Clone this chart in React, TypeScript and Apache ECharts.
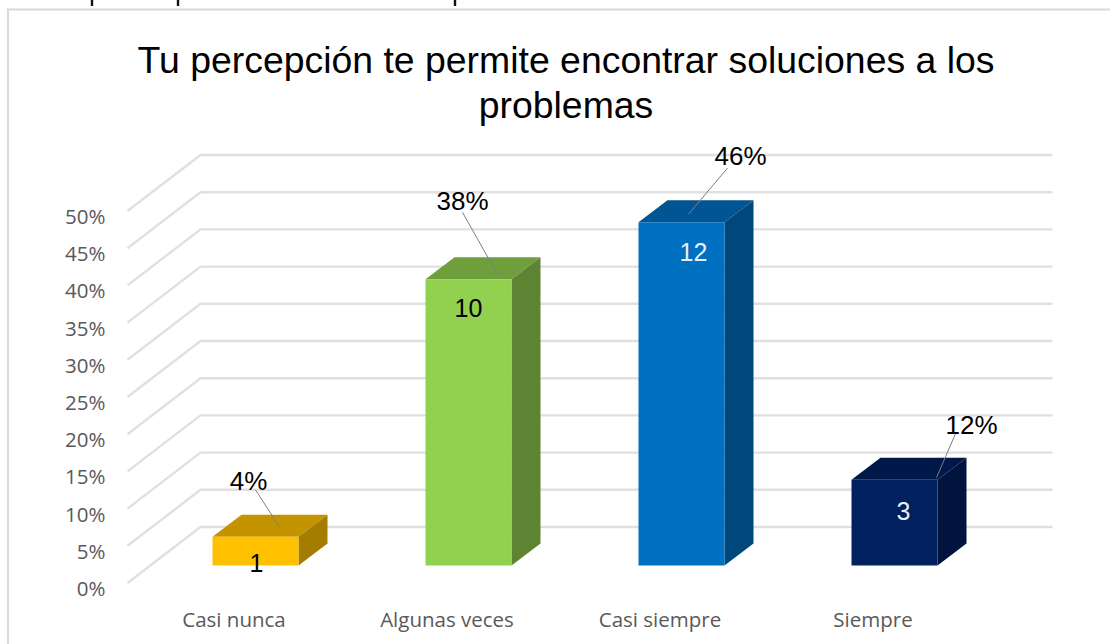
import React, { useEffect, useRef } from "react";
import * as echarts from "echarts";

const categories = ["Casi nunca", "Algunas veces", "Casi siempre", "Siempre"];
const counts = [1, 10, 12, 3];
const percents = [3.85, 38.46, 46.15, 11.54];
const percentLabels = ["4%", "38%", "46%", "12%"];
const gridTicks = [0, 5, 10, 15, 20, 25, 30, 35, 40, 45, 50];

const frontColors = ["#FFC000", "#92D050", "#0070C0", "#002060"];
const topColors = ["#C39300", "#6F9E3D", "#005592", "#00184A"];
const sideColors = ["#A37C00", "#5E8332", "#00487B", "#00143D"];
const countColors = ["#000000", "#000000", "#E8EEF4", "#E8EEF4"];

// label layout relative to the top-centre of each bar's front face: [labelDx, labelDy, lineX1, lineY1, lineX2, lineY2]
const leaderLayout = [
  [-7, -56, 0, -47, 24, -10],
  [-6, -78, -6, -67, 29, -5],
  [59, -66, 46, -54, 7, -8],
  [77, -55, 61, -46, 42, -2],
];
// count label offset relative to the same point: [dx, dy]
const countLayout = [
  [1, 26],
  [0, 29],
  [12, 30],
  [9, 31],
];
// clipped descenders of the line of text above the chart
const clippedStems = [92, 178, 455];

const BAR_W = 86;
const DEPTH_X = 29;
const DEPTH_Y = 22;
const BAR_SHIFT_X = 21.5;
const BAR_SHIFT_Y = -22.5;
const BACK_X = 73;
const BACK_Y = -61;
const FRONT_Y = -5;
const GRID_COLOR = "#E0E0E0";

export default function App() {
  const ref = useRef<HTMLDivElement>(null);
  useEffect(() => {
    if (!ref.current) return;
    const chart = echarts.init(ref.current, undefined, { renderer: "svg" });
    chart.setOption({
      animation: false,
      backgroundColor: "#ffffff",
      title: {
        text: "Tu percepción te permite encontrar soluciones a los\nproblemas",
        left: 561,
        top: 32,
        textAlign: "center",
        textStyle: {
          fontFamily: "Liberation Sans",
          fontSize: 37.4,
          fontWeight: "normal",
          color: "#000000",
          lineHeight: 45,
        },
      },
      graphic: [
        {
          type: "polyline",
          silent: true,
          shape: { points: [[8, 644], [8, 9.5], [1110, 9.5]] },
          style: { stroke: "#D9D9D9", lineWidth: 2, fill: "none" },
        },
        ...clippedStems.map((x) => ({
          type: "rect",
          silent: true,
          shape: { x: x - 1.2, y: 0, width: 2.4, height: 6 },
          style: { fill: "#111111" },
        })),
      ],
      grid: { left: 127.5, right: 130.5, top: 216, bottom: 56 },
      xAxis: {
        type: "category",
        data: categories,
        axisLine: { show: false },
        axisTick: { show: false },
        axisLabel: {
          margin: 20,
          fontFamily: "Open Sans",
          fontSize: 20.5,
          color: "#595959",
        },
      },
      yAxis: {
        type: "value",
        min: 0,
        max: 50,
        interval: 5,
        axisLine: { show: false },
        axisTick: { show: false },
        splitLine: { show: false },
        axisLabel: {
          margin: 22,
          fontFamily: "Open Sans",
          fontSize: 20.5,
          color: "#595959",
          formatter: "{value}%",
        },
      },
      series: [
        {
          type: "custom",
          silent: true,
          z: 1,
          clip: false,
          data: gridTicks.map((t) => [0, t]),
          renderItem: (params: any, api: any) => {
            const y = api.coord([0, api.value(1)])[1];
            const sys = params.coordSys;
            return {
              type: "polyline",
              shape: {
                points: [
                  [sys.x, y + FRONT_Y],
                  [sys.x + BACK_X, y + BACK_Y],
                  [sys.x + sys.width + BACK_X, y + BACK_Y],
                ],
              },
              style: { stroke: GRID_COLOR, lineWidth: 2.4, fill: "none" },
            };
          },
        },
        {
          type: "custom",
          silent: true,
          z: 2,
          clip: false,
          data: percents.map((p, i) => [i, p, counts[i]]),
          renderItem: (_params: any, api: any) => {
            const i = api.value(0);
            const [cx, yTop] = api.coord([i, api.value(1)]);
            const yBase = api.coord([i, 0])[1] + BAR_SHIFT_Y;
            const top = yTop + BAR_SHIFT_Y;
            const l = cx + BAR_SHIFT_X - BAR_W / 2;
            const r = l + BAR_W;
            const mid = (l + r) / 2;
            const [ldx, ldy, x1, y1, x2, y2] = leaderLayout[i];
            const [cdx, cdy] = countLayout[i];
            return {
              type: "group",
              children: [
                {
                  type: "polygon",
                  shape: { points: [[l, top], [r, top], [r + DEPTH_X, top - DEPTH_Y], [l + DEPTH_X, top - DEPTH_Y]] },
                  style: { fill: topColors[i] },
                },
                {
                  type: "polygon",
                  shape: { points: [[r, top], [r + DEPTH_X, top - DEPTH_Y], [r + DEPTH_X, yBase - DEPTH_Y], [r, yBase]] },
                  style: { fill: sideColors[i] },
                },
                {
                  type: "rect",
                  shape: { x: l, y: top, width: BAR_W, height: yBase - top },
                  style: { fill: frontColors[i] },
                },
                {
                  type: "line",
                  shape: { x1: mid + x1, y1: top + y1, x2: mid + x2, y2: top + y2 },
                  style: { stroke: "#7F7F7F", lineWidth: 1 },
                },
                {
                  type: "text",
                  style: {
                    x: mid + cdx,
                    y: top + cdy,
                    text: String(api.value(2)),
                    fill: countColors[i],
                    font: "25px 'Liberation Sans'",
                    align: "center",
                    verticalAlign: "middle",
                  },
                },
                {
                  type: "text",
                  style: {
                    x: mid + ldx,
                    y: top + ldy,
                    text: percentLabels[i],
                    fill: "#000000",
                    font: "26px 'Liberation Sans'",
                    align: "center",
                    verticalAlign: "middle",
                  },
                },
              ],
            };
          },
        },
      ],
    });
    return () => chart.dispose();
  }, []);
  return (
    <div
      ref={ref}
      style={{ position: "absolute", left: 0, top: 0, width: 1110, height: 644 }}
    />
  );
}
